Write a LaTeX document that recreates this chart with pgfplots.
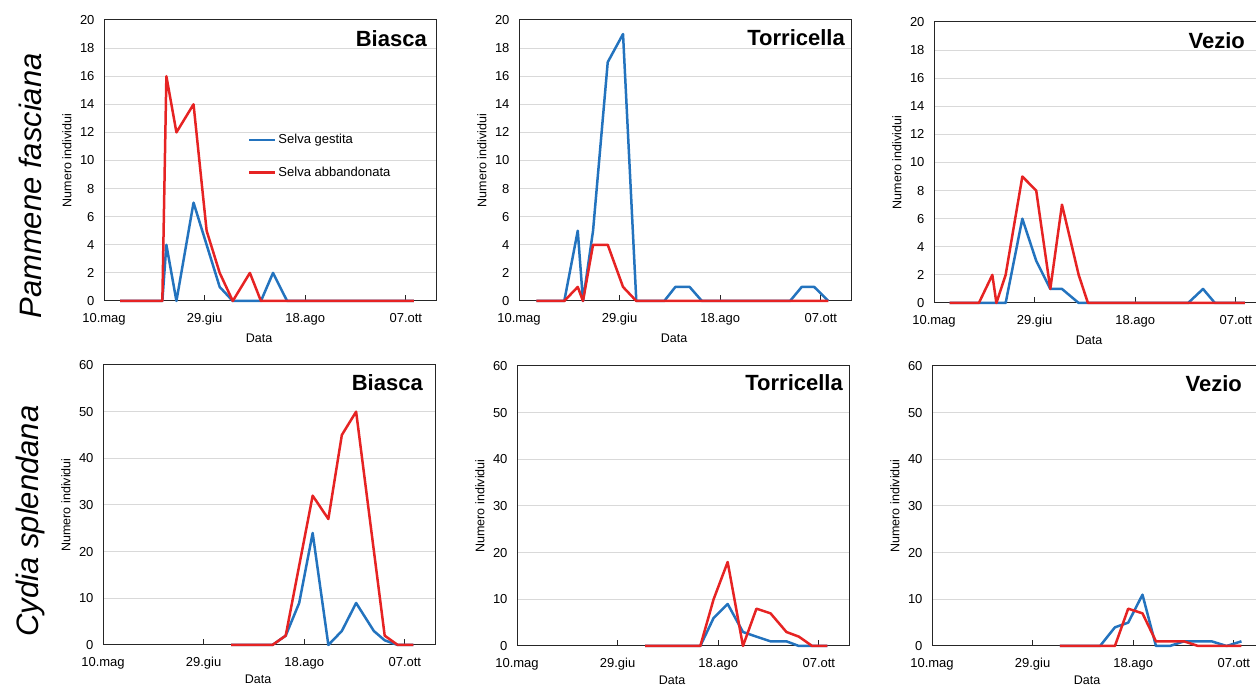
\documentclass[border=0pt]{standalone}
\usepackage{fontspec}
\setmainfont{Liberation Sans}
\usepackage{pgfplots}
\pgfplotsset{compat=1.18}

\definecolor{gestita}{RGB}{35,115,190}
\definecolor{abbandonata}{RGB}{230,35,35}
\definecolor{gridgray}{RGB}{217,217,217}

\tikzset{ttl/.style={anchor=east, inner sep=0pt, font=\bfseries\fontsize{22}{24}\selectfont}}

\pgfplotsset{
  panel/.style={
    scale only axis, width=332pt,
    xmin=0, xmax=165, ymin=0,
    xtick={0,50,100,150},
    xticklabels={10.mag,29.giu,18.ago,07.ott},
    tick align=inside, xtick pos=bottom, major tick length=6pt,
    ytick style={draw=none},
    xtick style={line width=1pt, black!85},
    ymajorgrids, grid style={line width=1pt, gridgray},
    axis line style={line width=1pt, black!85},
    tick label style={font=\fontsize{13}{15}\selectfont},
    xticklabel style={yshift=-9pt},
    yticklabel style={xshift=-6pt},
    /pgf/number format/assume math mode=true,
    xlabel={Data}, ylabel={Numero individui},
    every axis x label/.style={at={(rel axis cs:0.467,0)}, yshift=-37pt, anchor=center,
      font=\fontsize{12.5}{14}\selectfont},
    every axis y label/.style={at={(rel axis cs:0,0.5)}, xshift=-37pt, rotate=90, anchor=center,
      font=\fontsize{12.5}{14}\selectfont},
    clip=false,
  },
  top/.style={panel, height=281pt, ymax=20, ytick={0,2,...,20}},
  bot/.style={panel, height=280pt, ymax=60, ytick={0,10,...,60},
    every axis x label/.append style={yshift=2.5pt}},
  g/.style={gestita, line width=2.5pt, line join=round},
  a/.style={abbandonata, line width=2.5pt, line join=round},
}

\begin{document}
\begin{tikzpicture}
\useasboundingbox (0,0) rectangle (1256pt,687pt);
\clip (0,0) rectangle (1256pt,687pt);

\node[rotate=90, font=\itshape\fontsize{31}{33}\selectfont] at (30pt,501pt) {Pammene fasciana};
\node[rotate=90, font=\itshape\fontsize{31}{33}\selectfont] at (30pt,166pt) {Cydia splendana};

% Pammene fasciana - Biasca
\begin{axis}[top, at={(104pt,386pt)}, anchor=south west,
  legend style={draw=none, fill=none, at={(rel axis cs:0.424,0.515)}, anchor=west,
    font=\fontsize{13}{15}\selectfont, row sep=18pt, cells={anchor=west}},
  legend image code/.code={\draw[#1, line width=2.5pt] (0pt,0pt) -- (26pt,0pt);}]
\addplot[g] coordinates {(8,0)(29,0)(31,4)(36,0)(44.5,7)(51,4)(57.5,1)(64,0)(78,0)(84,2)(91,0)(154,0)};
\addlegendentry{Selva gestita}
\addplot[a] coordinates {(8,0)(29,0)(31,16)(36,12)(44.5,14)(51,5)(57.5,2)(64,0)(72.5,2)(78,0)(154,0)};
\addlegendentry{Selva abbandonata}
\node[ttl] at (rel axis cs:1,1) [xshift=-9pt, yshift=-19pt] {Biasca};
\end{axis}

% Pammene fasciana - Torricella
\begin{axis}[top, at={(519pt,386pt)}, anchor=south west]
\addplot[g] coordinates {(8.6,0)(22.5,0)(29.2,5)(31.8,0)(36.8,5)(44.1,17)(51.7,19)(58.3,0)(72.2,0)(77.7,1)(84.8,1)(90.9,0)(134.7,0)(140.5,1)(146.7,1)(153.8,0)};
\addplot[a] coordinates {(8.6,0)(22.5,0)(29.2,1)(31.8,0)(36.8,4)(44.1,4)(51.7,1)(58.3,0)(153.8,0)};
\node[ttl] at (rel axis cs:1,1) [xshift=-6pt, yshift=-18pt] {Torricella};
\end{axis}

% Pammene fasciana - Vezio
\begin{axis}[top, at={(934pt,384pt)}, anchor=south west]
\addplot[g] coordinates {(7.7,0)(35.6,0)(43.9,6)(50.8,3)(57.8,1)(63.6,1)(71.9,0)(126.3,0)(133.7,1)(139.6,0)(154.5,0)};
\addplot[a] coordinates {(7.7,0)(22.3,0)(29,2)(31,0)(35.6,2)(43.9,9)(50.8,8)(57.8,1)(63.6,7)(71.9,2)(76.5,0)(154.5,0)};
\node[ttl] at (rel axis cs:1,1) [xshift=-21pt, yshift=-19pt] {Vezio};
\end{axis}

% Cydia splendana - Biasca
\begin{axis}[bot, at={(103pt,42pt)}, anchor=south west]
\addplot[g] coordinates {(63.7,0)(84.2,0)(90.8,2)(97.5,9)(104.2,24)(112,0)(118.7,3)(125.8,9)(134.6,3)(140,1)(146.5,0)(154.2,0)};
\addplot[a] coordinates {(63.7,0)(84.2,0)(90.8,2)(104.2,32)(112,27)(118.7,45)(125.8,50)(140,2)(146.5,0)(154.2,0)};
\node[ttl] at (rel axis cs:1,1) [xshift=-12pt, yshift=-18pt] {Biasca};
\end{axis}

% Cydia splendana - Torricella
\begin{axis}[bot, at={(517pt,41pt)}, anchor=south west]
\addplot[g] coordinates {(63.7,0)(91.1,0)(97.7,6)(104.7,9)(112.3,3)(119,2)(126,1)(133.9,1)(140.1,0)(154.2,0)};
\addplot[a] coordinates {(63.7,0)(91.1,0)(97.7,10)(104.7,18)(112.3,0)(119,8)(126,7)(133.9,3)(140.1,2)(146.7,0)(154.2,0)};
\node[ttl] at (rel axis cs:1,1) [xshift=-6pt, yshift=-17pt] {Torricella};
\end{axis}

% Cydia splendana - Vezio
\begin{axis}[bot, at={(932pt,41pt)}, anchor=south west]
\addplot[g] coordinates {(63.6,0)(83.5,0)(90.9,4)(97.5,5)(104.6,11)(111.3,0)(118.2,0)(125.2,1)(132.3,1)(139,1)(146.4,0)(153.8,1)};
\addplot[a] coordinates {(63.6,0)(90.9,0)(97.5,8)(104.6,7)(111.3,1)(118.2,1)(125.2,1)(132.3,0)(153.8,0)};
\node[ttl] at (rel axis cs:1,1) [xshift=-22pt, yshift=-18pt] {Vezio};
\end{axis}
\end{tikzpicture}
\end{document}
